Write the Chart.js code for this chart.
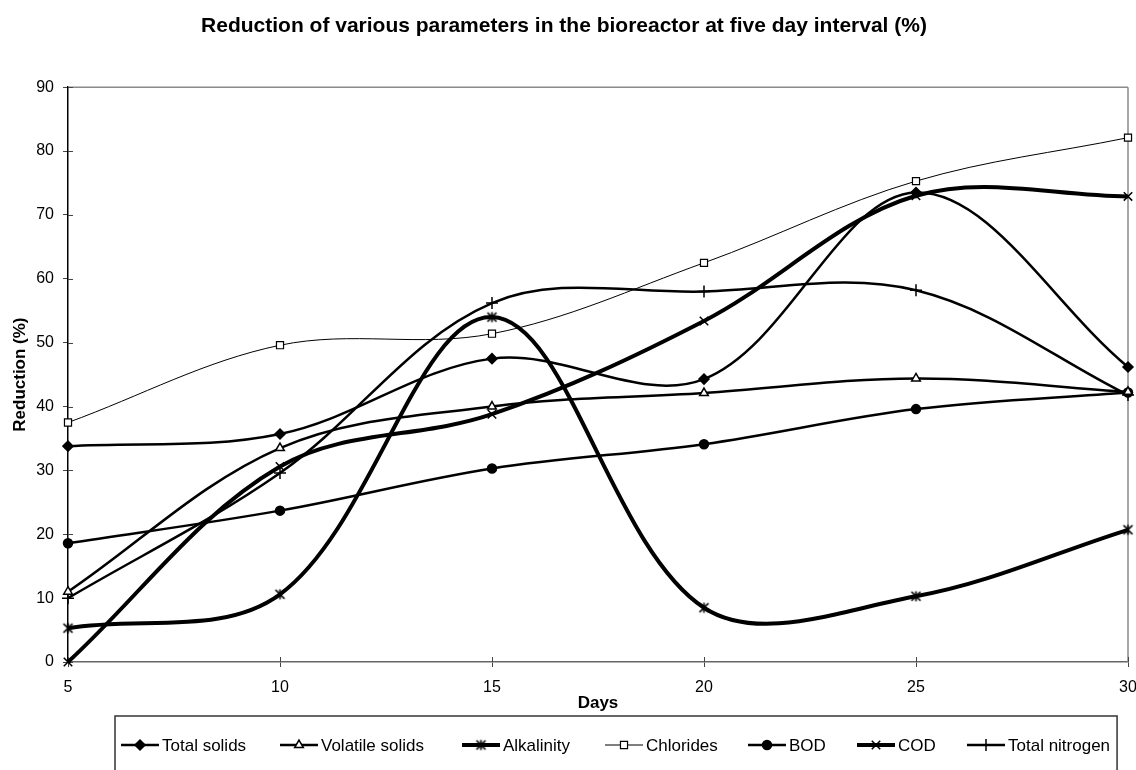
<!DOCTYPE html>
<html>
<head>
<meta charset="utf-8">
<script src="https://cdn.jsdelivr.net/npm/chart.js@4.4.1/dist/chart.umd.min.js"></script>
<style>
  html, body { margin: 0; padding: 0; background: #fff; }
  #wrap { width: 1136px; height: 770px; }
</style>
</head>
<body>
<div id="wrap"><canvas id="c" width="1136" height="770"></canvas></div>
<script>
/* ===== data ===== */
const DAYS            = [5, 10, 15, 20, 25, 30];
const TOTAL_SOLIDS    = [33.8, 35.7, 47.5, 44.3, 73.5, 46.2];
const VOLATILE_SOLIDS = [11.0, 33.5, 40.0, 42.1, 44.4, 42.3];
const ALKALINITY      = [5.3, 10.6, 54.0, 8.5, 10.3, 20.7];
const CHLORIDES       = [37.5, 49.6, 51.4, 62.5, 75.3, 82.1];
const BOD             = [18.6, 23.7, 30.3, 34.1, 39.6, 42.2];
const COD             = [0.0, 30.6, 38.8, 53.4, 73.0, 72.9];
const TOTAL_NITROGEN  = [10.0, 29.6, 56.2, 58.0, 58.2, 41.8];

const TITLE  = 'Reduction of various parameters in the bioreactor at five day interval (%)';
const X_NAME = 'Days';
const Y_NAME = 'Reduction (%)';

const FONT = '"Liberation Sans", Arial, sans-serif';

// legend entry left edges (layout only)
const LEGEND_X = [121, 280, 462, 605, 748, 857, 967];

/* ===== marker: X with a vertical bar ===== */
function asteriskMarker(){
  const c = document.createElement('canvas');
  c.width = 13; c.height = 13;
  const g = c.getContext('2d');
  g.strokeStyle = '#000'; g.lineWidth = 1.7;
  g.beginPath();
  g.moveTo(2,2); g.lineTo(11,11);
  g.moveTo(11,2); g.lineTo(2,11);
  g.moveTo(6.5,1.5); g.lineTo(6.5,11.5);
  g.stroke();
  return c;
}

const pts = (arr) => arr.map((v,i) => ({ x: DAYS[i], y: v }));

function series(label, values, width, style){
  return Object.assign({
    label,
    data: pts(values),
    borderColor: '#000',
    borderWidth: width,
    tension: 0.35,
    clip: false,
    pointBorderColor: '#000',
    pointBackgroundColor: '#000',
    pointBorderWidth: 1.5,
    pointRadius: 4.5,
    pointHoverRadius: 4.5
  }, style);
}

const datasets = [
  series('Total solids', TOTAL_SOLIDS, 2.5, { pointStyle: 'rectRot', pointRadius: 5 }),
  series('Volatile solids', VOLATILE_SOLIDS, 2.5, { pointStyle: 'triangle', pointBackgroundColor: '#fff', pointRadius: 5 }),
  series('Alkalinity', ALKALINITY, 4, { pointStyle: asteriskMarker() }),
  series('Chlorides', CHLORIDES, 1, { pointStyle: 'rect', pointBackgroundColor: '#fff', pointBorderWidth: 1.2, pointRadius: 5 }),
  series('BOD', BOD, 2.5, { pointStyle: 'circle', pointRadius: 4.5 }),
  series('COD', COD, 4, { pointStyle: 'crossRot', pointRadius: 6 }),
  series('Total nitrogen', TOTAL_NITROGEN, 2.5, { pointStyle: 'cross', pointRadius: 6 })
];

/* ===== frame + inner ticks (Excel style crossing ticks) ===== */
const framePlugin = {
  id: 'frame',
  beforeDatasetsDraw(chart){
    const { ctx, chartArea: a, scales } = chart;
    ctx.save();
    ctx.lineWidth = 1.5;
    ctx.strokeStyle = '#8a8a8a';
    ctx.beginPath();
    ctx.moveTo(a.left, a.top); ctx.lineTo(a.right, a.top);
    ctx.moveTo(a.right, a.top); ctx.lineTo(a.right, a.bottom);
    ctx.stroke();
    // inner halves of the ticks
    ctx.lineWidth = 1;
    ctx.strokeStyle = '#444';
    ctx.beginPath();
    scales.y.ticks.forEach(t => {
      const y = Math.round(scales.y.getPixelForValue(t.value)) + 0.5;
      ctx.moveTo(a.left, y); ctx.lineTo(a.left + 5, y);
    });
    scales.x.ticks.forEach(t => {
      const x = Math.round(scales.x.getPixelForValue(t.value)) + 0.5;
      ctx.moveTo(x, a.bottom); ctx.lineTo(x, a.bottom - 5);
    });
    ctx.stroke();
    ctx.restore();
  }
};

/* ===== legend box at the bottom ===== */
const legendPlugin = {
  id: 'bottomLegend',
  afterDraw(chart){
    const { ctx } = chart;
    const boxLeft = 115, boxTop = 716, rowY = 745;
    ctx.save();
    ctx.font = '17px ' + FONT;
    const dsAll = chart.data.datasets;
    const last = dsAll.length - 1;
    const boxRight = LEGEND_X[last] + 41 + ctx.measureText(dsAll[last].label).width + 7;

    ctx.strokeStyle = '#333';
    ctx.lineWidth = 1.5;
    ctx.beginPath();
    ctx.moveTo(boxLeft, 770); ctx.lineTo(boxLeft, boxTop);
    ctx.lineTo(boxRight, boxTop); ctx.lineTo(boxRight, 770);
    ctx.stroke();

    ctx.textBaseline = 'middle';
    ctx.textAlign = 'left';
    dsAll.forEach((ds, i) => {
      const x = LEGEND_X[i];
      ctx.strokeStyle = '#000';
      ctx.lineWidth = ds.borderWidth;
      ctx.beginPath();
      ctx.moveTo(x, rowY); ctx.lineTo(x + 38, rowY);
      ctx.stroke();
      if (Chart.helpers && Chart.helpers.drawPoint) {
        ctx.fillStyle = ds.pointBackgroundColor;
        ctx.strokeStyle = '#000';
        ctx.lineWidth = ds.pointBorderWidth;
        Chart.helpers.drawPoint(ctx, {
          pointStyle: ds.pointStyle, radius: ds.pointRadius, rotation: 0,
          borderWidth: ds.pointBorderWidth
        }, x + 19, rowY);
      }
      ctx.fillStyle = '#000';
      ctx.fillText(ds.label, x + 41, rowY + 1);
    });
    ctx.restore();
  }
};

new Chart(document.getElementById('c'), {
  type: 'line',
  data: { datasets },
  options: {
    responsive: false,
    animation: false,
    events: [],
    layout: { padding: { left: 0, right: 8, top: 0, bottom: 55 } },
    plugins: {
      legend: { display: false },
      tooltip: { enabled: false },
      title: {
        display: true,
        text: TITLE,
        color: '#000',
        font: { family: FONT, size: 21, weight: 'bold' },
        padding: { top: 14, bottom: 48 }
      }
    },
    scales: {
      x: {
        type: 'linear',
        min: 5, max: 30,
        ticks: { stepSize: 5, color: '#000', font: { family: FONT, size: 16 }, padding: 11, maxRotation: 0, autoSkip: false },
        grid: { display: true, drawOnChartArea: false, tickLength: 5, color: '#444' },
        border: { display: true, color: '#666', width: 1.5 },
        title: { display: true, text: X_NAME, color: '#000', font: { family: FONT, size: 17, weight: 'bold' }, padding: { top: 0, bottom: 1 } },
        afterFit(s){ s.height = 53; s.paddingLeft = 0; s.paddingRight = 0; }
      },
      y: {
        min: 0, max: 90,
        ticks: { stepSize: 10, color: '#000', font: { family: FONT, size: 16 }, padding: 9 },
        grid: { display: true, drawOnChartArea: false, tickLength: 5, color: '#444' },
        border: { display: true, color: '#000', width: 1.5 },
        title: { display: true, text: Y_NAME, color: '#000', font: { family: FONT, size: 17, weight: 'bold' }, padding: { top: 10, bottom: 0 } },
        afterFit(s){ s.width = 68; s.paddingTop = 0; s.paddingBottom = 0; }
      }
    }
  },
  plugins: [framePlugin, legendPlugin]
});
</script>
</body>
</html>
